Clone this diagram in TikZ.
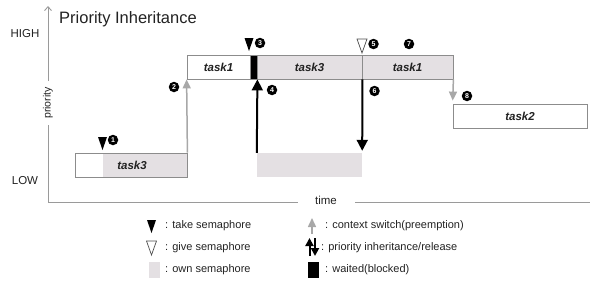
\documentclass[tikz,border=0pt]{standalone}
\usepackage{fontspec}
\setmainfont{Liberation Sans}
\usetikzlibrary{arrows.meta}
\definecolor{own}{HTML}{E4E0E3}
\definecolor{bord}{HTML}{8C8C8C}
\definecolor{cs}{HTML}{A8A8A8}
\definecolor{axiscol}{HTML}{9A9A9A}
\definecolor{ink}{HTML}{222222}
\begin{document}
\begin{tikzpicture}[x=1pt,y=-1pt,
  box/.style={draw=bord, line width=0.8pt, minimum height=24pt, inner sep=0pt,
    font=\fontsize{11.5}{12}\selectfont\bfseries\itshape, text=ink},
  tasktext/.style={inner sep=0pt, font=\fontsize{11.5}{12}\selectfont\bfseries\itshape, text=ink},
  num/.style={circle, fill=black, inner sep=0pt, minimum size=10.5pt, text=white,
    font=\fontsize{7}{7}\selectfont\bfseries},
  csarrow/.style={draw=cs, line width=1.5pt, -{Triangle[width=8pt,length=9pt]}},
  piarrow/.style={draw=black, line width=2pt, -{Triangle[width=11pt,length=11pt]}},
  axisline/.style={draw=axiscol, line width=0.9pt},
  legtext/.style={anchor=west, inner sep=0pt, text=ink, font=\fontsize{11}{12}\selectfont},
  lbl/.style={inner sep=0pt, text=ink, font=\fontsize{11.5}{12}\selectfont},
  takesem/.pic={\fill[black] (-4.5,0) -- (4.5,0) -- (0,13) -- cycle;},
  givesem/.pic={\draw[black!70, line width=0.7pt, fill=white] (-5,0) -- (5,0) -- (0,14) -- cycle;}
]
\path[use as bounding box] (0,0) rectangle (599,281);

% title and axes
\node[inner sep=0pt, anchor=west, text=ink, font=\fontsize{16.5}{18}\selectfont] (title) at (59,19) {Priority Inheritance};
\node[lbl] (high) at (25,34) {HIGH};
\node[lbl] (low) at (25,181) {LOW};
\node[inner sep=0pt, rotate=90, text=ink, font=\fontsize{10.5}{12}\selectfont] (prio) at (48,103) {priority};
\node[inner sep=0pt, text=ink, font=\fontsize{11.5}{12}\selectfont] (time) at (326,200) {time};
\coordinate (ytop) at (48,6);
\coordinate (ymid) at (48,81);
\coordinate (ylow) at (48,125);
\coordinate (origin) at (48,202);
\coordinate (xa) at (298,202);
\coordinate (xb) at (355,202);
\coordinate (xend) at (590,202);
\draw[axisline, -{Straight Barb[length=4pt,width=7pt]}] (ymid) -- (ytop);
\draw[axisline] (ylow) -- (origin) -- (xa);
\draw[axisline] (xb) -- (xend);

% low task3
\fill[own] (103,153) rectangle (187,177);
\node[box, minimum width=112pt] (lowbox) at (131,165) {};
\node[tasktext] (lowtxt) at (132,165) {task3};

% high row
\node[box, fill=white, minimum width=63pt] (t1a) at (218.5,67) {task1};
\node[box, fill=black, minimum width=7pt] (blk) at (253.5,67) {};
\node[box, fill=own, minimum width=105pt] (t3h) at (309.5,67) {task3};
\node[box, fill=own, minimum width=91pt] (t1b) at (407.5,67) {task1};

% task2
\node[box, fill=white, minimum width=134pt] (t2) at (520,116) {task2};

% own semaphore block of task3
\node[fill=own, minimum width=105pt, minimum height=24pt, inner sep=0pt] (ownblk) at (309.5,165) {};

% markers
\pic at (102.5,137) {takesem};
\pic at (249,38) {takesem};
\pic at (362,39) {givesem};

% connectors
\draw[csarrow] (lowbox.north east) -- (t1a.south west);
\draw[piarrow] (ownblk.north west) -- (blk.south east);
\draw[piarrow, shorten >=2pt] (t3h.south east) -- (ownblk.north east);
\draw[csarrow, shorten >=3pt] (t1b.south east) -- (t2.north west);

% numbers
\node[num] (n1) at (113,140) {1};
\node[num] (n2) at (174,87) {2};
\node[num] (n3) at (260,43) {3};
\node[num] (n4) at (272,90) {4};
\node[num] (n5) at (373.5,44) {5};
\node[num] (n6) at (374.5,91) {6};
\node[num] (n7) at (409,44) {7};
\node[num] (n8) at (467,96) {8};

% legend
\pic at (151.5,220) {takesem};
\node[legtext] (lg1) at (165,226) {: take semaphore};
\pic at (151.5,241) {givesem};
\node[legtext] (lg2) at (165,248) {: give semaphore};
\node[fill=own, minimum width=11pt, minimum height=16pt, inner sep=0pt] (lgown) at (154.5,270) {};
\node[legtext] (lg3) at (165,270) {: own semaphore};

\coordinate (lca) at (312,234);
\coordinate (lcb) at (312,218);
\draw[csarrow] (lca) -- (lcb);
\node[legtext] (lg4) at (325,226) {: context switch(preemption)};
\coordinate (lpa) at (309.5,256);
\coordinate (lpb) at (309.5,238);
\coordinate (lpc) at (315,238);
\coordinate (lpd) at (315,256);
\draw[draw=black, line width=2pt, -{Triangle[width=8pt,length=8pt]}] (lpa) -- (lpb);
\draw[draw=black, line width=2pt, -{Triangle[width=8pt,length=8pt]}] (lpc) -- (lpd);
\node[legtext] (lg5) at (321,248) {: priority inheritance/release};
\node[fill=black, minimum width=11pt, minimum height=16pt, inner sep=0pt] (lgblk) at (313.5,270) {};
\node[legtext] (lg6) at (325,270) {: waited(blocked)};
\end{tikzpicture}
\end{document}
